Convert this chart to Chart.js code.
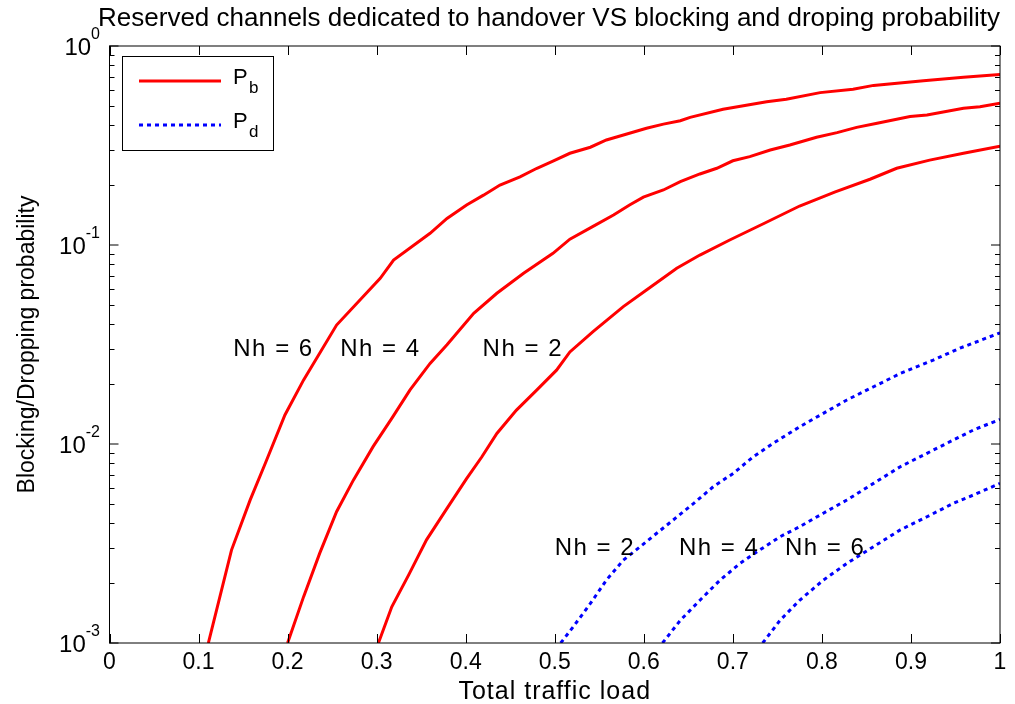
<!DOCTYPE html>
<html>
<head>
<meta charset="utf-8">
<script src="https://cdn.jsdelivr.net/npm/chart.js@4.4.1/dist/chart.umd.min.js"></script>
<style>
  html, body { margin: 0; padding: 0; background: #ffffff; }
  #wrap { width: 1015px; height: 704px; }
</style>
</head>
<body>
<div id="wrap"><canvas id="chart" width="1015" height="704"></canvas></div>
<script>
// ---- text ----
const titleText = 'Reserved channels dedicated to handover VS blocking and droping probability';
const xAxisTitle = 'Total traffic load';
const yAxisTitle = 'Blocking/Dropping probability';

// ---- axis ticks ----
const xTicks = [0, 0.1, 0.2, 0.3, 0.4, 0.5, 0.6, 0.7, 0.8, 0.9, 1];
const xTickLabels = ['0', '0.1', '0.2', '0.3', '0.4', '0.5', '0.6', '0.7', '0.8', '0.9', '1'];
const yDecades = [1e-3, 1e-2, 1e-1, 1];
const yExponents = ['-3', '-2', '-1', '0'];

// ---- blocking probability P_b ----
const loadPbNh6 = [0.111, 0.137, 0.158, 0.175, 0.197, 0.218, 0.255, 0.304, 0.319, 0.36, 0.379, 0.401, 0.42, 0.4385, 0.461, 0.48, 0.498, 0.517, 0.54, 0.558, 0.581, 0.603, 0.622, 0.641, 0.652, 0.689, 0.738, 0.76, 0.798, 0.835, 0.858, 0.914, 0.959, 1.0];
const pbNh6 = [1.0e-3, 2.93e-3, 5.24e-3, 8.0e-3, 0.014, 0.021, 0.0396, 0.068, 0.084, 0.1145, 0.136, 0.159, 0.178, 0.2, 0.22, 0.243, 0.264, 0.289, 0.31, 0.337, 0.361, 0.386, 0.405, 0.421, 0.438, 0.481, 0.525, 0.54, 0.583, 0.606, 0.634, 0.669, 0.696, 0.72];

const loadPbNh4 = [0.2, 0.218, 0.236, 0.255, 0.274, 0.296, 0.317, 0.3375, 0.36, 0.379, 0.409, 0.435, 0.465, 0.498, 0.517, 0.543, 0.566, 0.584, 0.5995, 0.622, 0.641, 0.663, 0.682, 0.70, 0.719, 0.742, 0.764, 0.794, 0.817, 0.839, 0.862, 0.899, 0.918, 0.959, 0.9775, 1.0];
const pbNh4 = [1.0e-3, 1.71e-3, 2.82e-3, 4.57e-3, 6.6e-3, 9.7e-3, 0.01345, 0.0187, 0.0254, 0.0315, 0.0454, 0.0572, 0.0721, 0.0908, 0.107, 0.124, 0.1415, 0.159, 0.174, 0.189, 0.208, 0.2275, 0.243, 0.265, 0.278, 0.30, 0.318, 0.348, 0.367, 0.39, 0.409, 0.442, 0.45, 0.486, 0.495, 0.515];

const loadPbNh2 = [0.302, 0.317, 0.336, 0.356, 0.379, 0.401, 0.418, 0.435, 0.457, 0.48, 0.502, 0.517, 0.543, 0.577, 0.603, 0.637, 0.663, 0.6965, 0.736, 0.775, 0.815, 0.854, 0.884, 0.921, 0.959, 1.0];
const pbNh2 = [1.0e-3, 1.52e-3, 2.2e-3, 3.3e-3, 4.75e-3, 6.7e-3, 8.6e-3, 0.0113, 0.0148, 0.0187, 0.0235, 0.029, 0.0367, 0.049, 0.0594, 0.0764, 0.089, 0.106, 0.129, 0.157, 0.185, 0.214, 0.243, 0.267, 0.289, 0.314];

// ---- dropping probability P_d ----
const loadPdNh2 = [0.5067, 0.521, 0.54, 0.558, 0.577, 0.596, 0.6145, 0.633, 0.656, 0.678, 0.7005, 0.723, 0.745, 0.775, 0.8016, 0.828, 0.858, 0.888, 0.925, 0.955, 1.0];
const pdNh2 = [1.0e-3, 1.21e-3, 1.58e-3, 2.07e-3, 2.61e-3, 3.05e-3, 3.56e-3, 4.15e-3, 5.03e-3, 6.1e-3, 7.12e-3, 8.63e-3, 0.01007, 0.0122, 0.01426, 0.01664, 0.0194, 0.0226, 0.0264, 0.0303, 0.0362];

const loadPdNh4 = [0.621, 0.641, 0.663, 0.6856, 0.708, 0.73, 0.753, 0.775, 0.8016, 0.828, 0.858, 0.888, 0.918, 0.9475, 0.97, 1.0];
const pdNh4 = [1.0e-3, 1.3e-3, 1.64e-3, 2.07e-3, 2.51e-3, 2.93e-3, 3.42e-3, 3.84e-3, 4.49e-3, 5.23e-3, 6.34e-3, 7.69e-3, 8.98e-3, 0.01047, 0.01175, 0.0133];

const loadPdNh6 = [0.7335, 0.753, 0.775, 0.8016, 0.828, 0.858, 0.888, 0.918, 0.9475, 0.97, 1.0];
const pdNh6 = [1.0e-3, 1.3e-3, 1.64e-3, 2.07e-3, 2.51e-3, 3.05e-3, 3.7e-3, 4.31e-3, 5.03e-3, 5.54e-3, 6.34e-3];

// ---- curve labels (left edge x, vertical centre y, in data units) ----
const curveLabels = ['Nh = 6', 'Nh = 4', 'Nh = 2', 'Nh = 2', 'Nh = 4', 'Nh = 6'];
const curveLabelX = [0.139, 0.259, 0.419, 0.5, 0.6395, 0.7585];
const curveLabelY = [0.0307, 0.0307, 0.0307, 0.00307, 0.00307, 0.00307];

// ---- legend entries ----
const legendMain = ['P', 'P'];
const legendSub = ['b', 'd'];

const FONT = '"Liberation Sans", Arial, Helvetica, sans-serif';
const RED = '#ff0000';
const BLUE = '#0000ff';
const DOTS = [4, 4];

function pairs(xs, ys) { return xs.map((x, i) => ({ x: x, y: ys[i] })); }

function pbSet(xs, ys) {
  return { data: pairs(xs, ys), borderColor: RED, borderWidth: 3, pointRadius: 0, fill: false, tension: 0 };
}
function pdSet(xs, ys) {
  return { data: pairs(xs, ys), borderColor: BLUE, borderWidth: 3, borderDash: DOTS, borderCapStyle: 'butt', pointRadius: 0, fill: false, tension: 0 };
}

// Frame, inward ticks, tick labels, titles, curve labels and legend box
const decorations = {
  id: 'decorations',
  afterDraw(chart) {
    const ctx = chart.ctx;
    const a = chart.chartArea;
    const xs = chart.scales.x, ys = chart.scales.y;
    ctx.save();

    // frame
    ctx.strokeStyle = '#000';
    ctx.lineWidth = 1;
    ctx.strokeRect(a.left, a.top, a.right - a.left, a.bottom - a.top);

    // x ticks (bottom and top)
    ctx.beginPath();
    xTicks.forEach(v => {
      const px = Math.round(xs.getPixelForValue(v)) + 0.5;
      ctx.moveTo(px, a.bottom); ctx.lineTo(px, a.bottom - 9);
      ctx.moveTo(px, a.top); ctx.lineTo(px, a.top + 9);
    });
    // y ticks: decades long, in-between short (left and right)
    yDecades.forEach((d, i) => {
      const py = ys.getPixelForValue(d);
      ctx.moveTo(a.left, py); ctx.lineTo(a.left + 9, py);
      ctx.moveTo(a.right, py); ctx.lineTo(a.right - 9, py);
      if (i < yDecades.length - 1) {
        for (let m = 2; m <= 9; m++) {
          const pm = Math.round(ys.getPixelForValue(d * m)) + 0.5;
          ctx.moveTo(a.left, pm); ctx.lineTo(a.left + 5, pm);
          ctx.moveTo(a.right, pm); ctx.lineTo(a.right - 5, pm);
        }
      }
    });
    ctx.stroke();

    ctx.fillStyle = '#000';

    // x tick labels
    ctx.font = '23px ' + FONT;
    ctx.textAlign = 'center';
    ctx.textBaseline = 'alphabetic';
    xTicks.forEach((v, i) => {
      ctx.fillText(xTickLabels[i], xs.getPixelForValue(v), a.bottom + 26);
    });

    // y tick labels as 10 with a raised exponent
    yDecades.forEach((d, i) => {
      const py = ys.getPixelForValue(d);
      ctx.font = '16px ' + FONT;
      const ew = ctx.measureText(yExponents[i]).width;
      ctx.textAlign = 'left';
      ctx.fillText(yExponents[i], 100 - ew, py - 7);
      ctx.font = '24px ' + FONT;
      ctx.textAlign = 'right';
      ctx.fillText('10', 100 - ew, py + 9);
    });

    // title
    ctx.font = '26px ' + FONT;
    ctx.textAlign = 'center';
    ctx.fillText(titleText, 549, 26);

    // x axis title
    ctx.font = '25px ' + FONT;
    ctx.letterSpacing = '1px';
    ctx.fillText(xAxisTitle, (a.left + a.right) / 2, 699);
    ctx.letterSpacing = '0px';

    // y axis title
    ctx.save();
    ctx.translate(34, (a.top + a.bottom) / 2);
    ctx.rotate(-Math.PI / 2);
    ctx.font = '23px ' + FONT;
    ctx.textAlign = 'center';
    ctx.fillText(yAxisTitle, 0, 0);
    ctx.restore();

    // curve labels
    ctx.font = '24px ' + FONT;
    ctx.textAlign = 'left';
    ctx.letterSpacing = '1.5px';
    curveLabels.forEach((t, i) => {
      const px = xs.getPixelForValue(curveLabelX[i]);
      const py = ys.getPixelForValue(curveLabelY[i]);
      ctx.fillText(t, px, py + 8.5);
    });
    ctx.letterSpacing = '0px';

    // legend
    ctx.fillStyle = '#fff';
    ctx.fillRect(122.5, 56.5, 151, 94);
    ctx.strokeStyle = '#000';
    ctx.lineWidth = 1;
    ctx.strokeRect(122.5, 56.5, 151, 94);
    const sets = chart.data.datasets;
    const rows = [81, 125];
    [0, 3].forEach((k, r) => {
      const ds = sets[k];
      ctx.beginPath();
      ctx.strokeStyle = ds.borderColor;
      ctx.lineWidth = ds.borderWidth;
      ctx.setLineDash(ds.borderDash || []);
      ctx.lineCap = 'butt';
      ctx.moveTo(139, rows[r]); ctx.lineTo(221, rows[r]);
      ctx.stroke();
      ctx.setLineDash([]);
      ctx.fillStyle = '#000';
      ctx.font = '22px ' + FONT;
      ctx.textAlign = 'left';
      ctx.fillText(legendMain[r], 233, rows[r] + 3);
      ctx.font = '17px ' + FONT;
      ctx.fillText(legendSub[r], 249, rows[r] + 12);
    });

    ctx.restore();
  }
};

new Chart(document.getElementById('chart'), {
  type: 'line',
  data: {
    datasets: [
      pbSet(loadPbNh6, pbNh6),
      pbSet(loadPbNh4, pbNh4),
      pbSet(loadPbNh2, pbNh2),
      pdSet(loadPdNh2, pdNh2),
      pdSet(loadPdNh4, pdNh4),
      pdSet(loadPdNh6, pdNh6)
    ]
  },
  options: {
    responsive: false,
    animation: false,
    devicePixelRatio: 1,
    layout: { padding: { left: 109.5, right: 15, top: 46, bottom: 61 } },
    plugins: { legend: { display: false }, tooltip: { enabled: false }, title: { display: false } },
    elements: { point: { radius: 0 }, line: { tension: 0 } },
    scales: {
      x: { type: 'linear', min: 0, max: 1, display: false },
      y: { type: 'logarithmic', min: 1e-3, max: 1, display: false }
    }
  },
  plugins: [decorations]
});
</script>
</body>
</html>
